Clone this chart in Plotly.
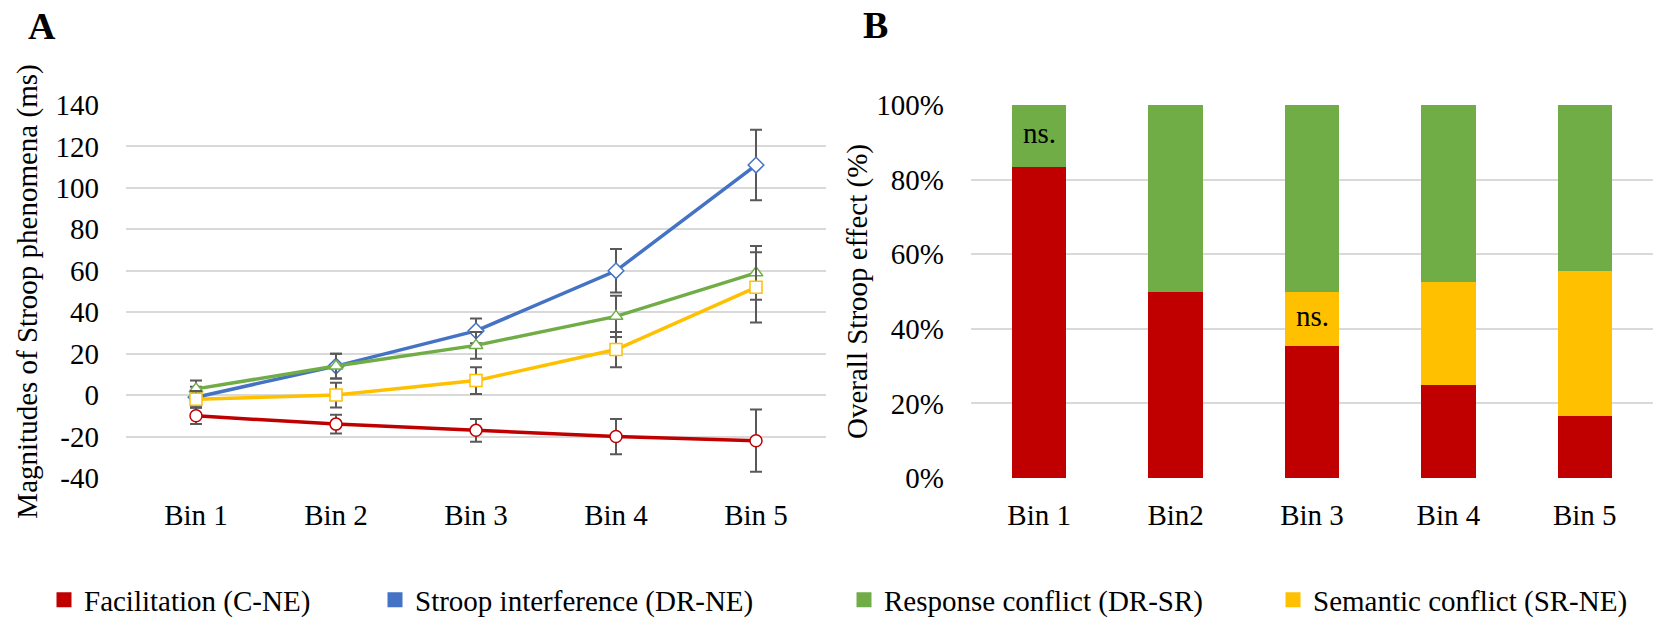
import plotly.graph_objects as go

# ---------------- data ----------------
bins_left = ["Bin 1", "Bin 2", "Bin 3", "Bin 4", "Bin 5"]
bins_right = ["Bin 1", "Bin2", "Bin 3", "Bin 4", "Bin 5"]

facilitation = [-10, -14, -17, -20, -22]
facilitation_err = [4, 4.5, 5.5, 8.5, 15]
stroop = [-1, 14, 31, 60, 111]
stroop_err = [5, 6, 6, 10.5, 17]
response = [3, 14, 24, 38, 59]
response_err = [4, 6, 6.5, 10, 13]
semantic = [-2, 0, 7, 22, 52]
semantic_err = [4, 6, 6.5, 8.5, 17]

pct_facilitation = [83.3, 50.0, 35.3, 25.0, 16.5]
pct_semantic = [0.0, 0.0, 14.7, 27.5, 39.1]
pct_response = [16.7, 50.0, 50.0, 47.5, 44.4]

left_ticks = [-40, -20, 0, 20, 40, 60, 80, 100, 120, 140]
left_ticklabels = ["-40", "-20", "0", "20", "40", "60", "80", "100", "120", "140"]
right_ticks = [0, 20, 40, 60, 80, 100]
right_ticklabels = ["0%", "20%", "40%", "60%", "80%", "100%"]

legend_names = ["Facilitation (C-NE)", "Stroop interference (DR-NE)",
                "Response conflict (DR-SR)", "Semantic conflict (SR-NE)"]

RED = "#C00000"
BLUE = "#4472C4"
GREEN = "#70AD47"
YELLOW = "#FFC000"
ERR = "#595959"
GRID = "#D9D9D9"
FONT = "Liberation Serif, Times New Roman, serif"
FS = 29

W, H = 1655, 619

fig = go.Figure()

# ---------- left panel: lines with error bars ----------
series = [
    ("Facilitation (C-NE)", facilitation, facilitation_err, RED, "circle"),
    ("Stroop interference (DR-NE)", stroop, stroop_err, BLUE, "diamond"),
    ("Response conflict (DR-SR)", response, response_err, GREEN, "triangle-up"),
    ("Semantic conflict (SR-NE)", semantic, semantic_err, YELLOW, "square"),
]
for name, vals, errs, col, sym in series:
    fig.add_trace(go.Scatter(
        x=bins_left, y=vals, mode="lines+markers", name=name,
        line=dict(color=col, width=3.5),
        marker=dict(symbol=sym, size=12, color="white", line=dict(color=col, width=1.5)),
        error_y=dict(type="data", array=errs, visible=True, color=ERR, thickness=2, width=6),
        showlegend=False, xaxis="x", yaxis="y",
    ))

# ---------- right panel: stacked 100% bars ----------
for name, vals, col in [("Facilitation (C-NE)", pct_facilitation, RED),
                        ("Semantic conflict (SR-NE)", pct_semantic, YELLOW),
                        ("Response conflict (DR-SR)", pct_response, GREEN)]:
    fig.add_trace(go.Bar(x=bins_right, y=vals, name=name,
                         marker=dict(color=col, line=dict(width=0)),
                         xaxis="x2", yaxis="y2", showlegend=False))

# ---------- legend entries (square swatches) ----------
for name, col, leg in zip(legend_names, [RED, BLUE, GREEN, YELLOW],
                          ["legend", "legend2", "legend3", "legend4"]):
    fig.add_trace(go.Scatter(x=[None], y=[None], mode="markers", name=name,
                             marker=dict(symbol="square", size=15, color=col),
                             xaxis="x2", yaxis="y2", legend=leg, showlegend=True))

# plot areas (pixels -> paper)
lx0, lx1 = 126, 826
rx0, rx1 = 971, 1653
ytop, ybot = 105, 478
ydom = [(H - ybot) / H, (H - ytop) / H]

axfont = dict(family=FONT, size=FS, color="black")

leg_common = dict(orientation="h", yanchor="middle", y=(H - 600) / H, xanchor="left",
                  font=axfont, bgcolor="rgba(0,0,0,0)", itemclick=False, itemdoubleclick=False)

fig.update_layout(
    width=W, height=H,
    margin=dict(l=0, r=0, t=0, b=0, pad=0, autoexpand=False),
    paper_bgcolor="white", plot_bgcolor="white",
    barmode="stack", bargap=0.6,
    font=axfont,
    xaxis=dict(domain=[lx0 / W, lx1 / W], anchor="y", type="category",
               range=[-0.5, 4.5], showgrid=False, zeroline=False, showline=False,
               ticks="", tickfont=axfont, ticklabelstandoff=17, automargin=False),
    yaxis=dict(domain=ydom, anchor="x", range=[-40, 140], tickvals=left_ticks,
               ticktext=left_ticklabels,
               showgrid=True, gridcolor=GRID, gridwidth=1.5, zeroline=False,
               showline=False, ticks="", tickfont=axfont, ticklabelstandoff=26,
               automargin=False,
               title=dict(text="Magnitudes of Stroop phenomena (ms)", font=axfont, standoff=9)),
    xaxis2=dict(domain=[rx0 / W, rx1 / W], anchor="y2", type="category",
                range=[-0.5, 4.5], showgrid=False, zeroline=False, showline=False,
                ticks="", tickfont=axfont, ticklabelstandoff=17, automargin=False),
    yaxis2=dict(domain=ydom, anchor="x2", range=[0, 100], tickvals=right_ticks,
                ticktext=right_ticklabels, showgrid=True, gridcolor=GRID, gridwidth=1.5,
                zeroline=False, showline=False, ticks="", tickfont=axfont,
                ticklabelstandoff=26, automargin=False,
                title=dict(text="Overall Stroop effect (%)", font=axfont, standoff=0)),
    legend=dict(x=44 / W, **leg_common),
    legend2=dict(x=375 / W, **leg_common),
    legend3=dict(x=844 / W, **leg_common),
    legend4=dict(x=1273 / W, **leg_common),
    annotations=[
        dict(text="<b>A</b>", x=42 / W, y=(H - 26) / H, xref="paper", yref="paper",
             xanchor="center", yanchor="middle", showarrow=False,
             font=dict(family=FONT, size=38, color="black")),
        dict(text="<b>B</b>", x=875 / W, y=(H - 25) / H, xref="paper", yref="paper",
             xanchor="center", yanchor="middle", showarrow=False,
             font=dict(family=FONT, size=38, color="black")),
        dict(text="ns.", x=bins_right[0], y=92.5, xref="x2", yref="y2",
             showarrow=False, font=axfont),
        dict(text="ns.", x=bins_right[2], y=43.5, xref="x2", yref="y2",
             showarrow=False, font=axfont),
    ],
)

fig.write_html("out.html", config={"displayModeBar": False},
               post_script="document.body.style.margin='0';")
